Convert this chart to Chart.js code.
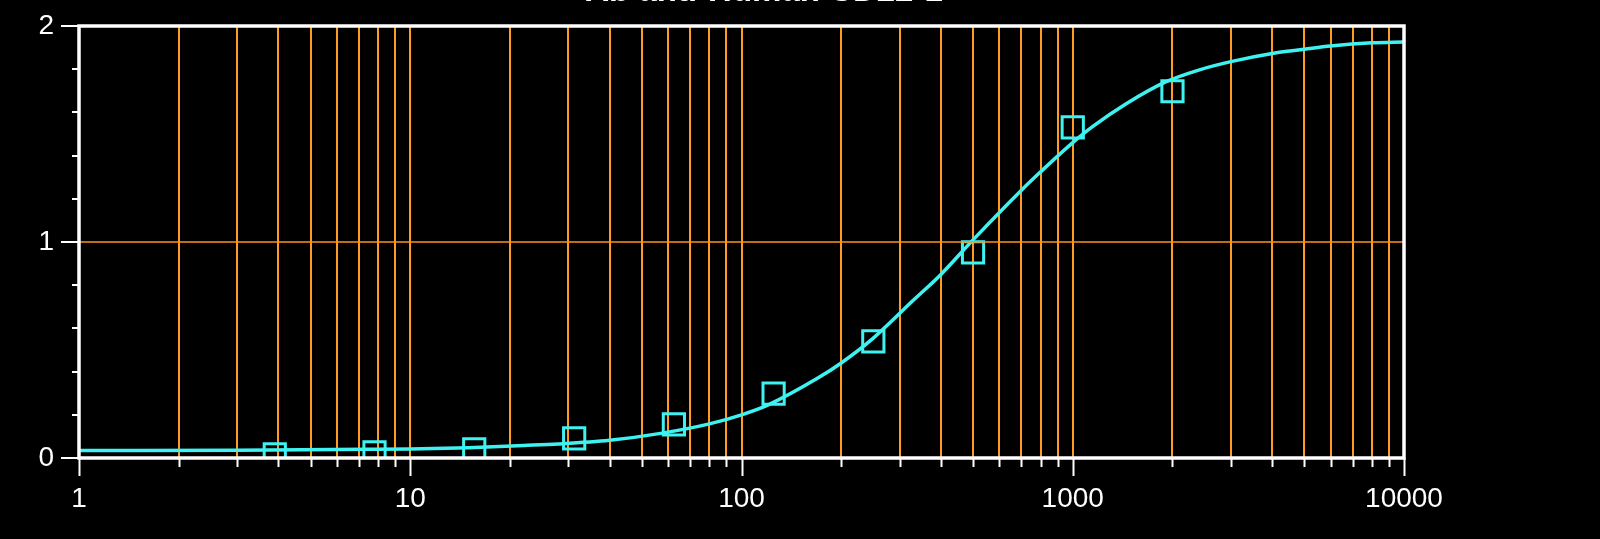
<!DOCTYPE html>
<html>
<head>
<meta charset="utf-8">
<title>Ab anti-Human CD22-1</title>
<script src="https://cdn.jsdelivr.net/npm/chart.js@4.4.1/dist/chart.umd.min.js"></script>
<style>
    html, body { margin: 0; padding: 0; background: #000; }
    #chart-wrap { width: 1600px; height: 539px; }
</style>
</head>
<body>
<div id="chart-wrap"><canvas id="curve-chart" width="1600" height="539"></canvas></div>
<script>
// Values
const titleText = 'Ab anti-Human CD22-1';

// measured samples (squares)
const sampleX = [3.9, 7.8, 15.6, 31.25, 62.5, 125, 250, 500, 1000, 2000];
const sampleY = [0.017, 0.026, 0.040, 0.091, 0.156, 0.298, 0.540, 0.952, 1.531, 1.698];

// fitted curve
const fitX = [1, 3, 7.4, 10, 15, 22, 28, 40, 57, 80, 100, 120, 170, 200, 250, 330, 400, 500, 700, 800, 1000, 1150, 1450, 1900, 2400, 3000, 4000, 5000, 6000, 8000, 10000];
const fitY = [0.035, 0.036, 0.040, 0.042, 0.048, 0.058, 0.065, 0.082, 0.114, 0.158, 0.200, 0.245, 0.370, 0.440, 0.555, 0.730, 0.850, 1.010, 1.240, 1.325, 1.460, 1.535, 1.640, 1.740, 1.796, 1.835, 1.873, 1.892, 1.907, 1.922, 1.926];

// axes
const decades = [1, 10, 100, 1000, 10000];
const minorSteps = [2, 3, 4, 5, 6, 7, 8, 9];
const yLabels = [0, 1, 2];
const yTickValues = [0, 0.2, 0.4, 0.6, 0.8, 1, 1.2, 1.4, 1.6, 1.8, 2];

const xTickValues = [];
decades.forEach((d, i) => {
    xTickValues.push(d);
    if (i < decades.length - 1) {
        minorSteps.forEach(m => xTickValues.push(d * m));
    }
});

const CYAN = '#3ff2f2';
const ORANGE = '#ff9a22';
const FONT = '"Liberation Sans", Arial, sans-serif';

// title (clipped at the top in the original), tick marks and white frame
const framePlugin = {
    id: 'framePlugin',
    afterDatasetsDraw(chart) {
        const { ctx, chartArea: a, scales: { x, y } } = chart;
        ctx.save();

        // horizontal line at 1
        const y1 = Math.round(y.getPixelForValue(1));
        ctx.strokeStyle = '#ff9020';
        ctx.lineWidth = 1.5;
        ctx.beginPath();
        ctx.moveTo(a.left, y1);
        ctx.lineTo(a.right, y1);
        ctx.stroke();

        ctx.strokeStyle = '#fff';
        ctx.lineWidth = 2;
        ctx.beginPath();
        x.ticks.forEach(t => {
            const px = Math.round(x.getPixelForValue(t.value)) + 0.5;
            const len = decades.includes(t.value) ? 18 : 9;
            ctx.moveTo(px, a.bottom);
            ctx.lineTo(px, a.bottom + len);
        });
        y.ticks.forEach(t => {
            const py = Math.round(y.getPixelForValue(t.value));
            const len = yLabels.includes(t.value) ? 18 : 7;
            ctx.moveTo(a.left, py);
            ctx.lineTo(a.left - len, py);
        });
        ctx.stroke();

        ctx.lineWidth = 3.5;
        ctx.strokeRect(a.left, a.top, a.right - a.left, a.bottom - a.top);

        // title
        ctx.fillStyle = '#fff';
        ctx.font = 'bold 100px ' + FONT;
        const w = ctx.measureText(titleText).width;
        const size = 100 * 357 / w;
        ctx.font = 'bold ' + size.toFixed(1) + 'px ' + FONT;
        ctx.textAlign = 'center';
        ctx.textBaseline = 'alphabetic';
        ctx.fillText(titleText, 764, 1);
        ctx.restore();
    }
};

function loadCurveChart() {
    const ctx = document.getElementById('curve-chart').getContext('2d');
    const curveChart = new Chart(ctx, {
        type: 'scatter',
        data: {
            datasets: [{
                label: 'samples',
                data: sampleX.map((v, i) => ({ x: v, y: sampleY[i] })),
                showLine: false,
                pointStyle: 'rect',
                pointRadius: 15,
                pointBorderWidth: 3,
                pointBackgroundColor: 'rgba(0,0,0,0)',
                pointBorderColor: CYAN
            }, {
                label: 'fit',
                data: fitX.map((v, i) => ({ x: v, y: fitY[i] })),
                showLine: true,
                pointRadius: 0,
                borderColor: CYAN,
                borderWidth: 3.5,
                cubicInterpolationMode: 'monotone'
            }]
        },
        options: {
            responsive: false,
            animation: false,
            devicePixelRatio: 1,
            layout: { padding: { top: 26, right: 196, left: 0, bottom: 0 } },
            plugins: {
                legend: { display: false },
                tooltip: { enabled: false },
                title: { display: false }
            },
            scales: {
                x: {
                    type: 'logarithmic',
                    min: 1,
                    max: 10000,
                    afterBuildTicks: scale => {
                        scale.ticks = xTickValues.map(v => ({ value: v }));
                    },
                    afterFit: scale => {
                        scale.height = 81;
                        scale.paddingLeft = 0;
                        scale.paddingRight = 0;
                    },
                    border: { display: false },
                    grid: {
                        color: ORANGE,
                        lineWidth: 2,
                        drawTicks: false
                    },
                    ticks: {
                        autoSkip: false,
                        maxRotation: 0,
                        padding: 24,
                        color: '#fff',
                        font: { family: FONT, size: 28 },
                        callback: v => decades.includes(v) ? String(v) : ''
                    }
                },
                y: {
                    min: 0,
                    max: 2,
                    afterBuildTicks: scale => {
                        scale.ticks = yTickValues.map(v => ({ value: v }));
                    },
                    afterFit: scale => {
                        scale.width = 79;
                        scale.paddingTop = 0;
                        scale.paddingBottom = 0;
                    },
                    border: { display: false },
                    grid: {
                        color: 'rgba(0,0,0,0)',
                        drawTicks: false
                    },
                    ticks: {
                        padding: 25,
                        color: '#fff',
                        font: { family: FONT, size: 28 },
                        callback: v => yLabels.includes(v) ? String(v) : ''
                    }
                }
            }
        },
        plugins: [framePlugin]
    });
}

if (document.getElementById('curve-chart')) {
    loadCurveChart();
}
</script>
</body>
</html>
